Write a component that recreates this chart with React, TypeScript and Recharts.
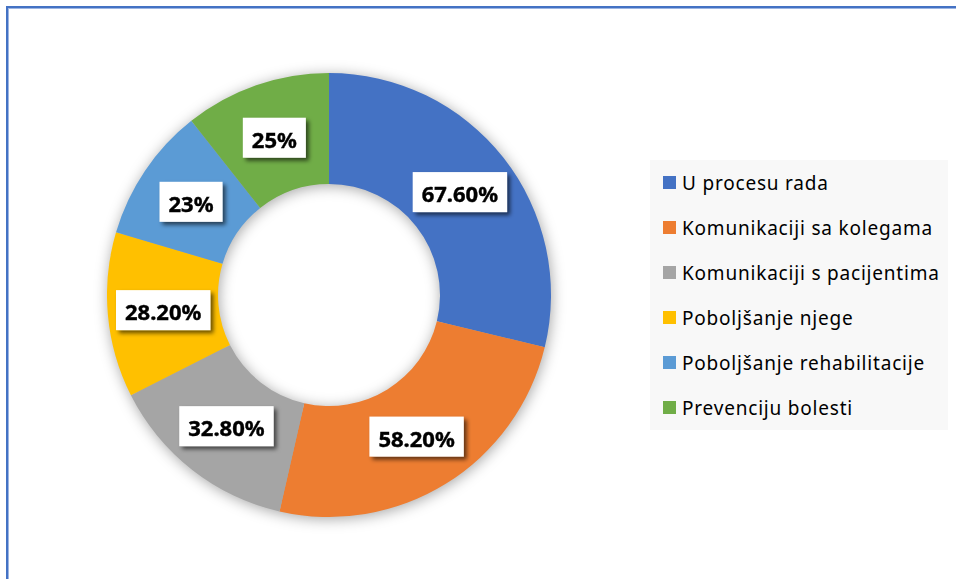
import React from "react";
import { PieChart, Pie, Cell, Legend } from "recharts";

const categories = [
  "U procesu rada",
  "Komunikaciji sa kolegama",
  "Komunikaciji s pacijentima",
  "Poboljšanje njege",
  "Poboljšanje rehabilitacije",
  "Prevenciju bolesti",
];
const values = [67.6, 58.2, 32.8, 28.2, 23, 25];
const valueLabels = ["67.60%", "58.20%", "32.80%", "28.20%", "23%", "25%"];
const colors = ["#4472C4", "#ED7D31", "#A5A5A5", "#FFC000", "#5B9BD5", "#70AD47"];

const data = categories.map((name, i) => ({ name, value: values[i], label: valueLabels[i] }));

const LABEL_FONT = 'bold 22px "Noto Sans"';
let ctx: CanvasRenderingContext2D | null = null;
function measure(text: string): number {
  if (!ctx) {
    const c = document.createElement("canvas");
    ctx = c.getContext("2d");
  }
  if (!ctx) return text.length * 13;
  ctx.font = LABEL_FONT;
  return ctx.measureText(text).width;
}

const RAD = Math.PI / 180;
const renderLabel = (props: any) => {
  const { cx, cy, midAngle, innerRadius, outerRadius, index } = props;
  const r = (innerRadius + outerRadius) / 2;
  const x = cx + r * Math.cos(-midAngle * RAD);
  const y = cy + r * Math.sin(-midAngle * RAD);
  const text = valueLabels[index];
  const w = measure(text) + 18;
  const h = 40;
  return (
    <g key={`lbl-${index}`} filter="url(#lblShadow)">
      <rect x={x - w / 2} y={y - h / 2} width={w} height={h} fill="#FFFFFF" />
      <text
        x={x}
        y={y + 1}
        textAnchor="middle"
        dominantBaseline="central"
        fontFamily='"Noto Sans"'
        fontWeight="bold"
        fontSize={22}
        fill="#000000"
        stroke="#000000"
        strokeWidth={0.4}
      >
        {text}
      </text>
    </g>
  );
};

const LegendContent = () => (
  <div
    style={{
      background: "#F8F8F8",
      width: 303,
      height: 270,
      boxSizing: "border-box",
      paddingTop: 0,
      paddingLeft: 13,
      fontFamily: '"Noto Sans"',
      fontSize: 19,
      letterSpacing: 0.8,
      color: "#000",
      whiteSpace: "nowrap",
    }}
  >
    {categories.map((c, i) => (
      <div key={c} style={{ display: "flex", alignItems: "center", height: 45 }}>
        <span
          style={{
            display: "inline-block",
            width: 13,
            height: 13,
            background: colors[i],
            marginRight: 6,
            flex: "none",
          }}
        />
        <span>{c}</span>
      </div>
    ))}
  </div>
);

const bar = (s: React.CSSProperties): React.CSSProperties => ({
  position: "fixed",
  pointerEvents: "none",
  zIndex: 10,
  ...s,
});

export default function App() {
  return (
    <div style={{ position: "relative", width: 948, height: 571 }}>
      <style>{`body{overflow:hidden} .recharts-pie{filter: drop-shadow(1px 2px 7px rgba(0,0,0,0.35));}`}</style>
      <PieChart
        width={948}
        height={571}
        margin={{ top: 0, right: 0, bottom: 0, left: 0 }}
      >
        <defs>
          <filter id="lblShadow" x="-30%" y="-30%" width="160%" height="160%">
            <feDropShadow dx="3" dy="3" stdDeviation="2.2" floodColor="#000" floodOpacity="0.6" />
          </filter>
        </defs>
        <Pie
          data={data}
          dataKey="value"
          nameKey="name"
          cx={321}
          cy={287}
          innerRadius={111}
          outerRadius={222}
          startAngle={90}
          endAngle={-270}
          stroke="none"
          label={renderLabel}
          labelLine={false}
          isAnimationActive={false}
        >
          {data.map((d, i) => (
            <Cell key={d.name} fill={colors[i]} />
          ))}
        </Pie>
        <Legend
          content={<LegendContent />}
          wrapperStyle={{ position: "absolute", left: 642, top: 152, width: 303, height: 270 }}
        />
      </PieChart>
      <div style={bar({ left: 6, top: 6, width: 950, height: 2, background: "#4472C4" })} />
      <div style={bar({ left: 6, top: 6, width: 2, height: 573, background: "#4472C4" })} />
      <div style={bar({ left: 8, top: 8, width: 948, height: 1, background: "#9DB5E3" })} />
      <div style={bar({ left: 8, top: 8, width: 1, height: 571, background: "#9DB5E3" })} />
    </div>
  );
}
